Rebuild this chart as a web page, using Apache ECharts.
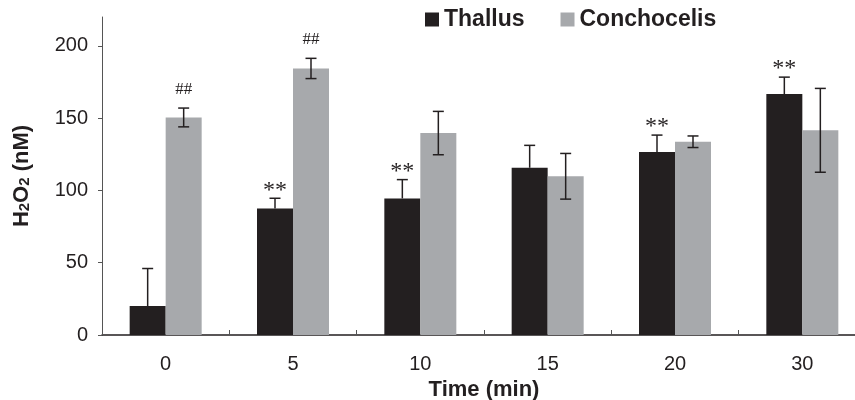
<!DOCTYPE html>
<html>
<head>
<meta charset="utf-8">
<script src="https://cdn.jsdelivr.net/npm/echarts@6/dist/echarts.min.js"></script>
<style>
  html, body { margin: 0; padding: 0; background: #fff; }
  #chart { width: 855px; height: 400px; }
</style>
</head>
<body>
<div id="chart"></div>
<script>
// H2O2 release over time, thallus vs conchocelis

const categories = ["0", "5", "10", "15", "20", "30"];
const seriesNames = ["Thallus", "Conchocelis"];

const thallus = [20, 87.6, 94.5, 115.7, 126.6, 166.7];
const thallusErr = [26, 7, 13, 15.5, 11.7, 11.7];
const thallusMarks = ["", "**", "**", "", "**", "**"];

const conch = [150.5, 184.4, 139.7, 109.8, 133.7, 141.6];
const conchErr = [6.5, 7, 15, 15.8, 4, 29];
const conchMarks = ["##", "##", "", "", "", ""];

const yTicks = [0, 50, 100, 150, 200];

const INK = "#231f20";
const GRAY = "#a7a9ac";
const SANS = "Liberation Sans, Arial, sans-serif";
const SERIF = "Liberation Serif, Times New Roman, serif";
const BAR_W = 36;

// error bars + significance marks, drawn on the bar's own x offset
function errorSeries(values, errs, marks, offset, upOnly) {
    return {
        type: "custom",
        z: 5,
        silent: true,
        data: values.map((v, i) => [i, v, errs[i]]),
        renderItem: function (params, api) {
            const i = params.dataIndex;
            const v = api.value(1);
            const e = api.value(2);
            const x = api.coord([api.value(0), 0])[0] + offset;
            const yTop = api.coord([api.value(0), v + e])[1];
            const yBot = api.coord([api.value(0), upOnly ? v : v - e])[1];
            const cap = 5.5;
            const st = { stroke: INK, lineWidth: 1.5 };
            const kids = [
                { type: "line", shape: { x1: x, y1: yTop, x2: x, y2: yBot }, style: st },
                { type: "line", shape: { x1: x - cap, y1: yTop, x2: x + cap, y2: yTop }, style: st }
            ];
            if (!upOnly) {
                kids.push({ type: "line", shape: { x1: x - cap, y1: yBot, x2: x + cap, y2: yBot }, style: st });
            }
            const m = marks[i];
            if (m) {
                const star = m === "**";
                kids.push({
                    type: "text",
                    x: x,
                    y: yTop - (star ? 8 : 19),
                    style: {
                        text: m,
                        fill: INK,
                        font: (star ? "24px " : "17px ") + SERIF,
                        align: "center",
                        verticalAlign: "middle"
                    }
                });
            }
            return { type: "group", children: kids };
        }
    };
}

const chart = echarts.init(document.getElementById("chart"));

chart.setOption({
    backgroundColor: "#fff",
    animation: false,
    textStyle: { fontFamily: SANS },
    grid: { left: 102, top: 17, bottom: 65, width: 764, outerBoundsMode: "none", containLabel: false },
    legend: {
        data: seriesNames,
        left: 425,
        top: 8,
        padding: 0,
        icon: "rect",
        itemWidth: 14,
        itemHeight: 14,
        itemGap: 36,
        textStyle: { fontFamily: SANS, fontSize: 23, fontWeight: "bold", color: INK }
    },
    xAxis: {
        type: "category",
        data: categories,
        name: "Time (min)",
        nameLocation: "middle",
        nameGap: 38,
        nameTextStyle: { fontFamily: SANS, fontSize: 22, fontWeight: "bold", color: INK },
        axisLine: { lineStyle: { color: INK, width: 1.5 } },
        axisTick: { show: true, inside: true, length: 5, lineStyle: { color: "#555" } },
        axisLabel: { fontFamily: SANS, fontSize: 20, color: INK, margin: 19 },
        splitLine: { show: false }
    },
    yAxis: {
        type: "value",
        min: 0,
        max: 220,
        interval: 50,
        name: "{b|H}{s|2}{b|O}{s|2}{b| (nM)}",
        nameLocation: "middle",
        nameGap: 69,
        nameRotate: 90,
        nameTextStyle: {
            rich: {
                b: { fontFamily: SANS, fontSize: 22, fontWeight: "bold", color: INK },
                s: { fontFamily: SANS, fontSize: 15, fontWeight: "bold", color: INK, padding: [6, 0, 0, 0] }
            }
        },
        axisLine: { show: true, lineStyle: { color: "#555", width: 1 } },
        axisTick: { show: true, length: 4, lineStyle: { color: "#555" } },
        axisLabel: {
            fontFamily: SANS,
            fontSize: 20,
            color: INK,
            margin: 14,
            showMaxLabel: false,
            formatter: (v) => (yTicks.indexOf(v) >= 0 ? String(v) : "")
        },
        splitLine: { show: false }
    },
    series: [
        {
            name: seriesNames[0],
            type: "bar",
            data: thallus,
            barWidth: BAR_W,
            barGap: "0%",
            itemStyle: { color: INK }
        },
        {
            name: seriesNames[1],
            type: "bar",
            data: conch,
            barWidth: BAR_W,
            barGap: "0%",
            itemStyle: { color: GRAY }
        },
        errorSeries(thallus, thallusErr, thallusMarks, -BAR_W / 2, true),
        errorSeries(conch, conchErr, conchMarks, BAR_W / 2, false)
    ]
});
</script>
</body>
</html>
